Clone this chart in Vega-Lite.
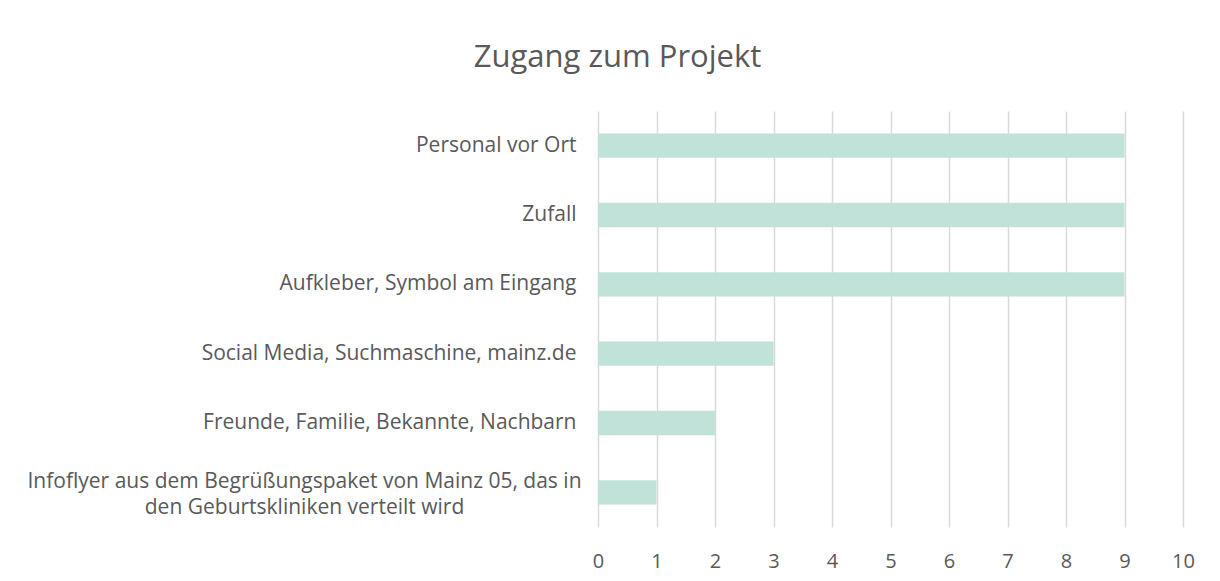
{
  "$schema": "https://vega.github.io/schema/vega-lite/v6.json",
  "autosize": "none",
  "width": 585,
  "height": 416,
  "padding": {"left": 598, "top": 111, "right": 37, "bottom": 54},
  "background": "white",
  "config": {"view": {"stroke": null}, "font": "Open Sans"},
  "title": {
    "text": "Zugang zum Projekt",
    "fontSize": 31,
    "font": "Open Sans",
    "fontWeight": "normal",
    "color": "#595959",
    "anchor": "middle",
    "baseline": "alphabetic",
    "offset": 13,
    "dx": -273
  },
  "data": {
    "values": [
      {"kategorie": "Personal vor Ort", "anzahl": 9},
      {"kategorie": "Zufall", "anzahl": 9},
      {"kategorie": "Aufkleber, Symbol am Eingang", "anzahl": 9},
      {"kategorie": "Social Media, Suchmaschine, mainz.de", "anzahl": 3},
      {"kategorie": "Freunde, Familie, Bekannte, Nachbarn", "anzahl": 2},
      {"kategorie": "Infoflyer aus dem Begrüßungspaket von Mainz 05, das in den Geburtskliniken verteilt wird", "anzahl": 1}
    ]
  },
  "mark": {"type": "bar", "color": "#c0e2d8"},
  "encoding": {
    "y": {
      "field": "kategorie",
      "type": "nominal",
      "sort": null,
      "title": null,
      "scale": {"paddingInner": 0.65, "paddingOuter": 0.325},
      "axis": {
        "domain": false,
        "ticks": false,
        "grid": false,
        "labelFontSize": 21,
        "labelColor": "#595959",
        "labelLimit": 0,
        "labelLineHeight": 26,
        "labelAlign": {"condition": {"test": "indexof(datum.value, 'Infoflyer') == 0", "value": "center"}, "value": "right"},
        "labelPadding": {"condition": {"test": "indexof(datum.value, 'Infoflyer') == 0", "value": 294}, "value": 22},
        "labelOffset": {"condition": {"test": "indexof(datum.value, 'Infoflyer') == 0", "value": -10}, "value": 0},
        "labelExpr": "indexof(datum.value, 'Infoflyer') == 0 ? ['Infoflyer aus dem Begrüßungspaket von Mainz 05, das in', 'den Geburtskliniken verteilt wird'] : datum.label"
      }
    },
    "x": {
      "field": "anzahl",
      "type": "quantitative",
      "title": null,
      "scale": {"domain": [0, 10], "nice": false},
      "axis": {
        "values": [0, 1, 2, 3, 4, 5, 6, 7, 8, 9, 10],
        "domain": false,
        "ticks": false,
        "grid": true,
        "gridColor": "#d9d9d9",
        "gridWidth": 1.5,
        "labelFontSize": 20,
        "labelColor": "#595959",
        "labelPadding": 24,
        "labelFlush": false
      }
    }
  }
}
